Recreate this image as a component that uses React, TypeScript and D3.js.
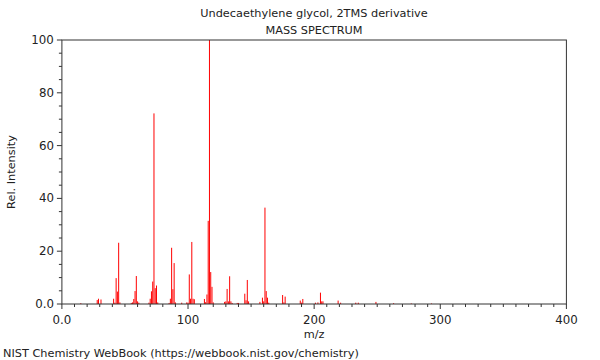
import React from "react";
import * as d3 from "d3";

const title = "Undecaethylene glycol, 2TMS derivative";
const subtitle = "MASS SPECTRUM";
const xLabel = "m/z";
const yLabel = "Rel. Intensity";
const footer = "NIST Chemistry WebBook (https://webbook.nist.gov/chemistry)";

const mzValues = [
  15, 28, 29, 31, 41, 42, 43, 44, 45, 46, 55, 56, 57, 58, 59, 60, 61, 69, 70, 71, 72, 73, 74, 75, 76,
  85, 86, 87, 88, 89, 90, 95, 99, 100, 101, 102, 103, 104, 105, 113, 114, 115, 116, 117, 118, 119, 120,
  129, 130, 131, 132, 133, 134, 135, 139, 140, 145, 146, 147, 148, 157, 159, 160, 161, 162, 163, 164,
  175, 176, 177, 189, 190, 191, 201, 203, 205, 206, 207, 219, 221, 233, 235, 249, 263, 277, 293,
];
const intensities = [
  0.3, 1.5, 2.0, 1.7, 2.0, 0.5, 9.8, 4.7, 23.2, 0.6, 0.4, 0.6, 1.9, 4.9, 10.6, 1.0, 0.5, 0.5, 2.0, 4.8, 8.5, 72.2, 6.0, 7.0, 0.6,
  0.4, 2.0, 21.3, 5.6, 15.5, 0.6, 0.5, 0.6, 0.5, 11.2, 2.0, 23.5, 2.0, 1.8, 1.9, 0.7, 3.6, 31.5, 100, 12.1, 6.5, 0.6,
  0.8, 1.0, 5.7, 1.0, 10.5, 1.0, 0.4, 0.4, 0.4, 3.9, 1.4, 9.1, 1.0, 0.8, 2.4, 1.0, 36.5, 4.9, 2.4, 0.5,
  3.4, 0.6, 2.8, 1.3, 0.5, 1.9, 0.5, 0.6, 4.3, 1.0, 1.0, 1.3, 0.5, 0.5, 0.5, 0.8, 0.3, 0.2, 0.2,
];

const xMajorTicks = [0, 100, 200, 300, 400];
const xTickLabels = ["0.0", "100", "200", "300", "400"];
const yMajorTicks = [0, 20, 40, 60, 80, 100];
const yTickLabels = ["0.0", "20", "40", "60", "80", "100"];

export default function App() {
  const W = 600, H = 360;
  const x = d3.scaleLinear().domain([0, 400]).range([61.9, 566.4]);
  const y = d3.scaleLinear().domain([0, 100]).range([304, 40]);
  const font = "DejaVu Sans, sans-serif";
  const txt = "#222";
  const xMinor = d3.range(0, 401, 10);
  const yMinor = d3.range(0, 101, 5);
  const [x0, x1] = x.range();
  const [yb, yt] = y.range();
  return (
    <svg width={W} height={H} style={{ position: "absolute", left: 0, top: 0, background: "#fff" }} fontFamily={font}>
      <text x={314} y={17} textAnchor="middle" fontSize={11.3} fill={txt}>{title}</text>
      <text x={314} y={34} textAnchor="middle" fontSize={11.3} fill={txt}>{subtitle}</text>
      {mzValues.map((m, i) => (
        <line key={i} x1={x(m)} x2={x(m)} y1={y(0)} y2={y(intensities[i])} stroke="#ff0000" strokeWidth={1} />
      ))}
      <rect x={x0} y={yt} width={x1 - x0} height={yb - yt} fill="none" stroke="#333" strokeWidth={1} />
      {xMinor.map((t) => (
        <line key={"xm" + t} x1={x(t)} x2={x(t)} y1={yb} y2={yb + (t % 100 === 0 ? 5 : 3)} stroke="#333" />
      ))}
      {yMinor.map((t) => (
        <line key={"ym" + t} x1={x0} x2={x0 - (t % 20 === 0 ? 5 : 3)} y1={y(t)} y2={y(t)} stroke="#333" />
      ))}
      {xMajorTicks.map((t, i) => (
        <text key={"xl" + t} x={x(t)} y={yb + 20} textAnchor="middle" fontSize={11.8} fill={txt}>{xTickLabels[i]}</text>
      ))}
      {yMajorTicks.map((t, i) => (
        <text key={"yl" + t} x={x0 - 8} y={y(t) + 4} textAnchor="end" fontSize={11.8} fill={txt}>{yTickLabels[i]}</text>
      ))}
      <text x={314} y={338} textAnchor="middle" fontSize={11.3} fill={txt}>{xLabel}</text>
      <text transform={`translate(15,${(yb + yt) / 2}) rotate(-90)`} textAnchor="middle" fontSize={11.3} fill={txt}>{yLabel}</text>
      <text x={3} y={357} fontSize={11.3} fill={txt}>{footer}</text>
    </svg>
  );
}
